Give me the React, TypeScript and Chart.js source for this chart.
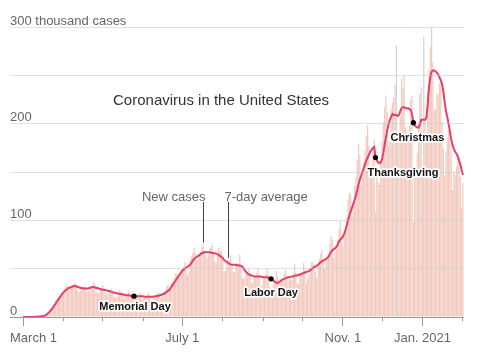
import React, { useEffect, useRef } from 'react';
import { Chart, registerables } from 'chart.js';

Chart.register(...registerables);

// Day 0 = March 1, 2020. Values in thousands of cases.
const dailyCases = [
  0, 0, 0, 0, 0, 0.1, 0.1,
  0.1, 0.1, 0.2, 0.3, 0.4, 0.5, 0.6,
  0.8, 1.1, 1.5, 2.4, 3.6, 5.2, 6.3,
  7.5, 8.8, 10.5, 12.4, 17.5, 18.9, 19.5,
  18.7, 22.1, 25.3, 26.9, 30.1, 32.6, 33.4,
  27.4, 29.8, 31.2, 32.8, 34.5, 35.2, 31.9,
  27.2, 25.9, 27.5, 29.3, 31.6, 32.1, 30.8,
  26.4, 27.3, 26.8, 29.4, 31.2, 36.1, 33.5,
  26.3, 24.8, 24.5, 27.6, 29.7, 33.2, 28.9,
  25.4, 23.6, 23.1, 25.6, 27.8, 29.4, 26.5,
  20.6, 19.8, 21.7, 21.3, 27.6, 26.3, 24.8,
  19.5, 21.1, 21.5, 21.9, 27.1, 24.6, 22.4,
  19.7, 17.8, 18.9, 20.1, 23.1, 24.9, 23.4,
  18.3, 18.9, 19.7, 19.8, 21.9, 25.2, 22.1,
  17.8, 17.3, 19.6, 21.9, 23.1, 25.4, 24.7,
  19.7, 19.8, 23.9, 25.6, 26.9, 31.6, 33.1,
  28.1, 30.2, 35.4, 37.8, 40.1, 45.3, 44.6,
  39.9, 41.2, 46.8, 50.4, 52.1, 56.7, 48.8,
  43.3, 47.1, 59.2, 62.4, 65.8, 71.3, 66.4,
  58.9, 58.7, 65.1, 67.3, 72.6, 75.9, 67.4,
  62.8, 61.7, 64.5, 71.2, 71.9, 75.2, 66.3,
  57.8, 56.2, 63.9, 71.8, 67.9, 68.3, 58.7,
  47.2, 47.6, 54.9, 53.8, 58.1, 64.2, 54.6,
  45.9, 46.7, 53.6, 56.1, 53.2, 64.3, 53.8,
  41.2, 39.1, 43.8, 47.3, 46.2, 49.6, 43.1,
  34.8, 35.6, 41.2, 42.5, 45.9, 50.4, 44.3,
  32.7, 32.1, 41.4, 41.8, 43.6, 50.8, 43.7,
  30.4, 25.1, 28.3, 34.2, 37.4, 47.6, 41.3,
  34.5, 35.8, 38.9, 38.7, 43.9, 48.6, 42.1,
  36.2, 41.3, 38.9, 38.6, 44.3, 55.2, 45.8,
  34.8, 33.9, 42.6, 45.2, 46.1, 55.8, 49.1,
  35.2, 40.1, 43.8, 50.4, 56.8, 57.2, 54.9,
  46.5, 40.3, 52.8, 60.1, 64.8, 69.4, 57.6,
  49.8, 59.9, 60.7, 62.8, 76.4, 83.7, 80.2,
  61.4, 66.8, 73.6, 79.8, 90.6, 99.2, 81.7,
  74.3, 84.1, 93.2, 103.4, 121.5, 128.6, 126.7,
  104.2, 118.3, 136.1, 144.6, 162.3, 178.9, 167.4,
  136.5, 144.7, 160.4, 172.1, 187.6, 198.3, 177.2,
  143.2, 157.1, 174.4, 183.6, 108.2, 150.3, 139.1,
  136.7, 160.1, 181.2, 201.3, 216.9, 229.4, 212.5,
  176.8, 181.3, 214.6, 222.1, 226.5, 240.3, 281.0,
  186.5, 193.4, 206.8, 247.1, 236.4, 249.8, 196.3,
  185.2, 191.6, 197.8, 224.4, 228.5, 98.1, 152.7,
  154.2, 169.8, 199.7, 231.4, 237.8, 152.6, 290.0,
  208.4, 189.3, 233.6, 256.4, 279.2, 300.1, 262.8,
  213.7, 215.3, 230.6, 231.4, 241.7, 245.3, 201.8,
  174.6, 146.2, 171.3, 185.4, 193.2, 190.6, 171.4,
  131.4, 150.8, 147.2, 155.3, 169.6, 165.8, 145.1,
  112.4, 138.5,
];

const sevenDayAverage = [
  0, 0, 0, 0, 0, 0, 0.1,
  0.1, 0.1, 0.2, 0.2, 0.3, 0.4, 0.5,
  0.7, 0.9, 1.2, 1.7, 2.5, 3.6, 5,
  6.5, 8, 10, 12, 14, 16, 18,
  20, 22, 24, 25.5, 27, 28, 29,
  30, 30.5, 31, 31.5, 32, 32, 31.5,
  31, 30.5, 30, 30, 29.5, 29.5, 29.5,
  29.5, 29.5, 30, 30.5, 31, 31, 30.5,
  30, 30, 29.5, 29, 28.5, 28.5, 28,
  28, 27.5, 27, 27, 26.5, 26, 25.5,
  25, 25, 24.5, 24, 24, 23.5, 23.5,
  23, 23, 22.5, 22.5, 22.5, 22, 22,
  21.5, 21.5, 21.5, 21.5, 21.5, 21.5, 21.5,
  21.5, 21.5, 21, 21, 21, 21, 21,
  21, 21, 21, 21.5, 21.5, 22, 22,
  22.5, 23, 23.5, 24, 25, 26, 27,
  28, 30, 32, 34, 36, 38, 40,
  42, 44, 46, 48, 49, 50, 51,
  52, 53, 54, 56, 58, 60, 61,
  62, 63, 64, 65, 66, 66.5, 67,
  67, 67, 67, 67, 66.5, 66.5, 66,
  66, 65.5, 65, 64, 63, 62, 61,
  59, 58, 57, 56, 55, 54.5, 54,
  54, 54, 54, 53.5, 53.5, 53, 53,
  52, 50, 48, 46.5, 45, 44, 43.5,
  43, 42.5, 42, 42, 42, 42, 42,
  42, 41.5, 41.5, 41, 41, 41, 40.5,
  40, 39.5, 39, 37.5, 36, 35.5, 35,
  36, 37, 38, 39, 39.5, 40, 40.5,
  41, 41, 41.5, 42, 42, 42.5, 43,
  43, 43.5, 44, 44.5, 45, 45.5, 46,
  46.5, 47, 47.5, 48.5, 49.5, 50.5, 51.5,
  52, 53, 54, 55.5, 56.5, 57.5, 58.5,
  59, 60, 61, 62.5, 65, 67.5, 69,
  70, 71, 72.5, 75, 78, 80, 81.5,
  83, 86, 90, 95, 100, 105, 109,
  113, 117, 121, 126, 131, 137, 142,
  146, 150, 154, 158, 162, 165, 168,
  171, 173, 175, 176, 165, 162, 160,
  159, 160, 163, 170, 178, 186, 193,
  199, 204, 207, 210, 209, 209, 209,
  208, 209, 213, 216, 217, 217, 216,
  216, 216, 215, 214, 210, 201, 198,
  197, 196, 196, 199, 204, 204, 204,
  204, 206, 220, 238, 248, 254, 255,
  255, 254, 253, 251, 248, 245, 241,
  233, 222, 213, 207, 200, 192, 184,
  178, 174, 171, 169, 166, 162, 158,
  152, 147,
];

const grayDays = [286, 307];
const monthStartDays = [0, 31, 61, 92, 122, 153, 184, 214, 245, 275, 306, 337];
const monthLabels = ['March 1', '', '', '', 'July 1', '', '', '', 'Nov. 1', '', 'Jan. 2021', ''];
const yLabelValues = [0, 100, 200, 300];
const yLabelTexts = ['0', '100', '200', '300 thousand cases'];
const holidayNames = ['Memorial Day', 'Labor Day', 'Thanksgiving', 'Christmas'];
const holidayDays = [85, 190, 270, 299];
const titleText = 'Coronavirus in the United States';
const newCasesLabel = 'New cases';
const averageLabel = '7-day average';
const newCasesPointerDay = 138;
const averagePointerDay = 157;

const FONT = '"Liberation Sans", Arial, Helvetica, sans-serif';
const PINK = '#f2cabf';
const GRAY = '#d2d2d2';
const LINE = '#e6406a';

// label placement relative to the holiday dot: [dx, dy, align]
const holidayLabelPlacement: [number, number, CanvasTextAlign][] = [
  [1, 11, 'center'],
  [0, 14, 'center'],
  [-8, 15, 'left'],
  [4, 15, 'center'],
];

const overlayPlugin = {
  id: 'overlay',
  afterDraw(chart: any) {
    const ctx: CanvasRenderingContext2D = chart.ctx;
    const xs = chart.scales.x;
    const ys = chart.scales.y;
    const area = chart.chartArea;
    ctx.save();

    // title
    ctx.fillStyle = '#333';
    ctx.font = `15px ${FONT}`;
    ctx.textAlign = 'center';
    ctx.textBaseline = 'middle';
    ctx.fillText(titleText, 221, 101);

    // pointers
    ctx.font = `13px ${FONT}`;
    ctx.fillStyle = '#666';
    ctx.strokeStyle = '#444';
    ctx.lineWidth = 1;
    const nx = Math.round(xs.getPixelForValue(newCasesPointerDay)) + 0.5;
    const ny = ys.getPixelForValue(dailyCases[newCasesPointerDay]) - 1;
    ctx.beginPath();
    ctx.moveTo(nx, 202);
    ctx.lineTo(nx, ny);
    ctx.stroke();
    ctx.textAlign = 'right';
    ctx.fillText(newCasesLabel, nx + 2, 197);

    const ax = Math.round(xs.getPixelForValue(averagePointerDay)) + 0.5;
    const ay = ys.getPixelForValue(sevenDayAverage[averagePointerDay]) - 5;
    ctx.beginPath();
    ctx.moveTo(ax, 202);
    ctx.lineTo(ax, ay);
    ctx.stroke();
    ctx.textAlign = 'left';
    ctx.fillText(averageLabel, ax - 4, 197);

    // holidays
    holidayDays.forEach((d, i) => {
      const px = xs.getPixelForValue(d);
      const py = ys.getPixelForValue(sevenDayAverage[d]);
      const [dx, dy, align] = holidayLabelPlacement[i];
      ctx.font = `bold 11px ${FONT}`;
      ctx.textAlign = align;
      ctx.textBaseline = 'middle';
      ctx.lineJoin = 'round';
      ctx.strokeStyle = 'rgba(255,255,255,0.95)';
      ctx.lineWidth = 3.5;
      ctx.strokeText(holidayNames[i], px + dx, py + dy);
      ctx.fillStyle = '#111';
      ctx.fillText(holidayNames[i], px + dx, py + dy);
      ctx.beginPath();
      ctx.arc(px, py, 2.6, 0, Math.PI * 2);
      ctx.fillStyle = '#000';
      ctx.fill();
    });

    // x labels
    ctx.font = `13px ${FONT}`;
    ctx.fillStyle = '#666';
    ctx.textBaseline = 'middle';
    ctx.textAlign = 'left';
    monthStartDays.forEach((d, i) => {
      const label = monthLabels[i];
      if (!label) return;
      const px = xs.getPixelForValue(d);
      const w = ctx.measureText(label).width;
      const left = Math.max(px - w / 2, area.left);
      ctx.fillText(label, left, area.bottom + 21);
    });
    ctx.restore();
  },
};

export default function App() {
  const canvasRef = useRef<HTMLCanvasElement | null>(null);

  useEffect(() => {
    document.body.style.margin = '0';
    const canvas = canvasRef.current;
    if (!canvas) return;
    const chart = new Chart(canvas, {
      type: 'bar',
      data: {
        datasets: [
          {
            type: 'line',
            label: averageLabel,
            data: sevenDayAverage.map((v, i) => ({ x: i, y: v })),
            borderColor: LINE,
            borderWidth: 2,
            pointRadius: 0,
            tension: 0,
            order: 0,
          } as any,
          {
            type: 'bar',
            label: newCasesLabel,
            data: dailyCases.map((v, i) => ({ x: i, y: v })),
            backgroundColor: (c: any) => (grayDays.includes(c.dataIndex) ? GRAY : PINK),
            barPercentage: 0.92,
            categoryPercentage: 1,
            order: 1,
          } as any,
        ],
      },
      options: {
        animation: false,
        responsive: false,
        maintainAspectRatio: false,
        layout: { padding: { left: 10, right: 14, top: 27, bottom: 27 } },
        plugins: {
          legend: { display: false },
          tooltip: { enabled: false },
          title: { display: false },
        },
        scales: {
          x: {
            type: 'linear',
            min: -10,
            max: 337.8,
            offset: false,
            afterBuildTicks: (s: any) => {
              s.ticks = monthStartDays.map((v) => ({ value: v }));
            },
            ticks: { display: false },
            grid: {
              display: true,
              offset: false,
              drawOnChartArea: false,
              drawTicks: true,
              tickLength: 9,
              tickColor: '#9a9a9a',
              tickWidth: 1,
              tickBorderDash: (c: any) => (monthLabels[c.index] ? [] : [4, 30]),
            },
            border: { display: false },
          },
          y: {
            min: 0,
            max: 300,
            ticks: {
              stepSize: 50,
              mirror: true,
              padding: 0,
              labelOffset: -6,
              color: '#666',
              font: { family: FONT, size: 13 },
              callback: (v: any) => {
                const k = yLabelValues.indexOf(Number(v));
                return k >= 0 ? yLabelTexts[k] : '';
              },
            },
            grid: {
              color: (c: any) => (c.tick && c.tick.value === 0 ? '#9a9a9a' : 'rgba(200,200,200,0.55)'),
              drawTicks: false,
              z: 1,
            },
            border: { display: false },
          },
        },
      } as any,
      plugins: [overlayPlugin],
    });
    return () => chart.destroy();
  }, []);

  return (
    <div style={{ position: 'absolute', left: 0, top: 0, width: 478, height: 353, background: '#fff' }}>
      <canvas ref={canvasRef} width={478} height={353} />
    </div>
  );
}
